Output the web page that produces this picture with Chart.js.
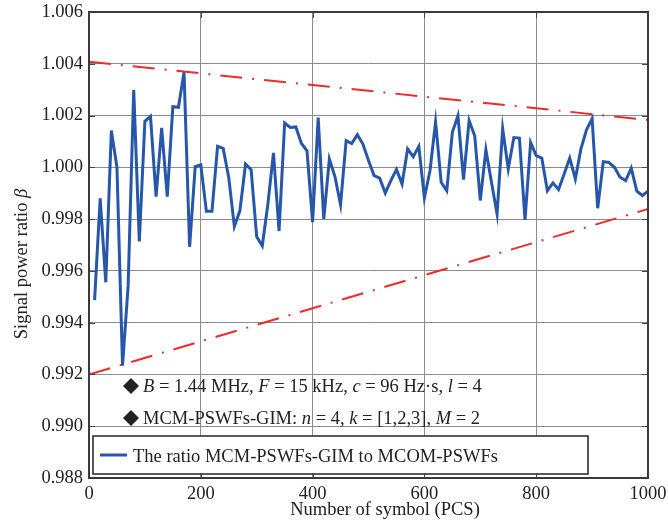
<!DOCTYPE html>
<html>
<head>
<meta charset="utf-8">
<script src="https://cdn.jsdelivr.net/npm/chart.js@4/dist/chart.umd.min.js"></script>
<style>
  body { margin: 0; background: #fff; }
  #wrap { width: 668px; height: 525px; }
</style>
</head>
<body>
<div id="wrap"><canvas id="ratio-chart" width="668" height="525"></canvas></div>
<script>
const symbols = [
    10, 20, 30, 40, 50, 60, 70, 80, 90, 100,
    110, 120, 130, 140, 150, 160, 170, 180, 190, 200,
    210, 220, 230, 240, 250, 260, 270, 280, 290, 300,
    310, 320, 330, 340, 350, 360, 370, 380, 390, 400,
    410, 420, 430, 440, 450, 460, 470, 480, 490, 500,
    510, 520, 530, 540, 550, 560, 570, 580, 590, 600,
    610, 620, 630, 640, 650, 660, 670, 680, 690, 700,
    710, 720, 730, 740, 750, 760, 770, 780, 790, 800,
    810, 820, 830, 840, 850, 860, 870, 880, 890, 900,
    910, 920, 930, 940, 950, 960, 970, 980, 990, 1000
];
const ratio = [
    0.99487, 0.99880, 0.99556, 1.00142, 1.00000, 0.99234, 0.99543, 1.00299, 0.99714, 1.00178,
    1.00197, 0.99887, 1.00152, 0.99887, 1.00234, 1.00232, 1.00367, 0.99693, 1.00003, 1.00010,
    0.99830, 0.99830, 1.00081, 1.00073, 0.99961, 0.99772, 0.99833, 1.00013, 0.99991, 0.99732,
    0.99697, 0.99858, 1.00056, 0.99754, 1.00171, 1.00154, 1.00156, 1.00092, 1.00064, 0.99788,
    1.00192, 0.99801, 1.00032, 0.99964, 0.99856, 1.00103, 1.00092, 1.00126, 1.00090, 1.00026,
    0.99968, 0.99958, 0.99901, 0.99949, 0.99992, 0.99936, 1.00071, 1.00041, 1.00081, 0.99882,
    0.99987, 1.00176, 0.99942, 0.99910, 1.00135, 1.00199, 0.99953, 1.00181, 1.00122, 0.99872,
    1.00068, 0.99942, 0.99820, 1.00150, 0.99994, 1.00115, 1.00113, 0.99797, 1.00096, 1.00045,
    1.00036, 0.99910, 0.99940, 0.99914, 0.99974, 1.00036, 0.99955, 1.00071, 1.00145, 1.00188,
    0.99842, 1.00022, 1.00019, 1.00000, 0.99962, 0.99949, 0.99997, 0.99908, 0.99891, 0.99908
];
// dash-dot envelope, end points only
const boundX = [0, 1000];
const upperBound = [1.00408, 1.00183];
const lowerBound = [0.99200, 0.99839];

const xTicks = [0, 200, 400, 600, 800, 1000];
const yTicks = [0.988, 0.990, 0.992, 0.994, 0.996, 0.998, 1.000, 1.002, 1.004, 1.006];

const seriesName = 'The ratio MCM-PSWFs-GIM to MCOM-PSWFs';
const xTitle = 'Number of symbol (PCS)';
const yTitle = [['Signal power ratio ', ''], ['β', 'italic']];
const notes = [
    [['B', 'italic'], [' = 1.44 MHz, ', ''], ['F', 'italic'], [' = 15 kHz, ', ''], ['c', 'italic'], [' = 96 Hz·s, ', ''], ['l', 'italic'], [' = 4', '']],
    [['MCM-PSWFs-GIM: ', ''], ['n', 'italic'], [' = 4, ', ''], ['k', 'italic'], [' = [1,2,3], ', ''], ['M', 'italic'], [' = 2', '']]
];

const SERIF = "'Liberation Serif', 'Times New Roman', serif";
const FS = 18.5;
const BLUE = '#2657a8';
const RED = '#ee2a2a';

function pts(xs, ys) {
    return xs.map((x, i) => ({ x: x, y: ys[i] }));
}

function runsWidth(ctx, runs, size) {
    let w = 0;
    runs.forEach(r => {
        ctx.font = (r[1] ? r[1] + ' ' : '') + size + 'px ' + SERIF;
        w += ctx.measureText(r[0]).width;
    });
    return w;
}

function drawRuns(ctx, runs, x, y, size) {
    runs.forEach(r => {
        ctx.font = (r[1] ? r[1] + ' ' : '') + size + 'px ' + SERIF;
        ctx.fillText(r[0], x, y);
        x += ctx.measureText(r[0]).width;
    });
}

const decor = {
    id: 'decor',
    afterDraw(chart) {
        const ctx = chart.ctx;
        const a = chart.chartArea;
        const xs = chart.scales.x, ys = chart.scales.y;
        ctx.save();

        // inward tick marks
        ctx.strokeStyle = '#444';
        ctx.lineWidth = 1;
        ctx.beginPath();
        yTicks.forEach(v => {
            const py = Math.round(ys.getPixelForValue(v)) + 0.5;
            ctx.moveTo(a.left, py); ctx.lineTo(a.left + 6, py);
            ctx.moveTo(a.right, py); ctx.lineTo(a.right - 6, py);
        });
        xTicks.forEach(v => {
            const px = Math.round(xs.getPixelForValue(v)) + 0.5;
            ctx.moveTo(px, a.bottom); ctx.lineTo(px, a.bottom - 6);
            ctx.moveTo(px, a.top); ctx.lineTo(px, a.top + 6);
        });
        ctx.stroke();

        // frame
        ctx.strokeStyle = '#3a3a3a';
        ctx.lineWidth = 2;
        ctx.strokeRect(a.left, a.top, a.right - a.left, a.bottom - a.top);

        // notes with diamonds
        ctx.fillStyle = '#222';
        ctx.textBaseline = 'alphabetic';
        [392, 424].forEach((py, i) => {
            const cx = 131, cy = py - 6;
            ctx.beginPath();
            ctx.moveTo(cx, cy - 8); ctx.lineTo(cx + 8, cy);
            ctx.lineTo(cx, cy + 8); ctx.lineTo(cx - 8, cy);
            ctx.closePath();
            ctx.fill();
            drawRuns(ctx, notes[i], 143, py, FS);
        });

        // legend box
        ctx.fillStyle = '#fff';
        ctx.fillRect(93, 436, 495, 38);
        ctx.strokeStyle = '#222';
        ctx.lineWidth = 1.5;
        ctx.strokeRect(93, 436, 495, 38);
        ctx.strokeStyle = BLUE;
        ctx.lineWidth = 3;
        ctx.beginPath();
        ctx.moveTo(100, 455); ctx.lineTo(127, 455);
        ctx.stroke();
        ctx.fillStyle = '#222';
        drawRuns(ctx, [[seriesName, '']], 133, 462, FS);

        // y axis title
        ctx.translate(27, 264);
        ctx.rotate(-Math.PI / 2);
        const w = runsWidth(ctx, yTitle, FS);
        drawRuns(ctx, yTitle, -w / 2, 0, FS);
        ctx.restore();

        // x axis title
        ctx.save();
        ctx.fillStyle = '#222';
        ctx.textBaseline = 'alphabetic';
        const wx = runsWidth(ctx, [[xTitle, '']], FS);
        drawRuns(ctx, [[xTitle, '']], 385 - wx / 2, 515, FS);
        ctx.restore();
    }
};

const config = {
    type: 'line',
    data: {
        datasets: [{
            label: seriesName,
            data: pts(symbols, ratio),
            borderColor: BLUE,
            borderWidth: 3,
            pointRadius: 0,
            tension: 0,
            order: 1
        }, {
            label: 'upper',
            data: pts(boundX, upperBound),
            borderColor: RED,
            borderWidth: 2,
            borderDash: [22, 10, 2, 10],
            pointRadius: 0,
            order: 2
        }, {
            label: 'lower',
            data: pts(boundX, lowerBound),
            borderColor: RED,
            borderWidth: 2,
            borderDash: [22, 10, 2, 10],
            pointRadius: 0,
            order: 2
        }]
    },
    options: {
        responsive: false,
        animation: false,
        layout: {
            padding: { left: 0, right: 20, top: 12, bottom: 0 }
        },
        plugins: {
            legend: { display: false },
            tooltip: { enabled: false }
        },
        scales: {
            x: {
                type: 'linear',
                min: 0,
                max: 1000,
                afterFit: s => { s.height = 47; s.paddingLeft = 0; s.paddingRight = 0; },
                afterBuildTicks: s => { s.ticks = xTicks.map(v => ({ value: v })); },
                ticks: {
                    color: '#222',
                    font: { family: SERIF, size: FS },
                    padding: 5,
                    maxRotation: 0,
                    callback: v => String(v)
                },
                grid: { color: '#8c8c8c', lineWidth: 1, drawTicks: false },
                border: { display: false }
            },
            y: {
                min: 0.988,
                max: 1.006,
                afterFit: s => { s.width = 89; s.paddingTop = 0; s.paddingBottom = 0; },
                afterBuildTicks: s => { s.ticks = yTicks.map(v => ({ value: v })); },
                ticks: {
                    color: '#222',
                    font: { family: SERIF, size: FS },
                    padding: 6,
                    callback: v => v.toFixed(3)
                },
                grid: { color: '#8c8c8c', lineWidth: 1, drawTicks: false },
                border: { display: false }
            }
        }
    },
    plugins: [decor]
};

var ratioChart = new Chart(document.getElementById('ratio-chart'), config);
</script>
</body>
</html>
